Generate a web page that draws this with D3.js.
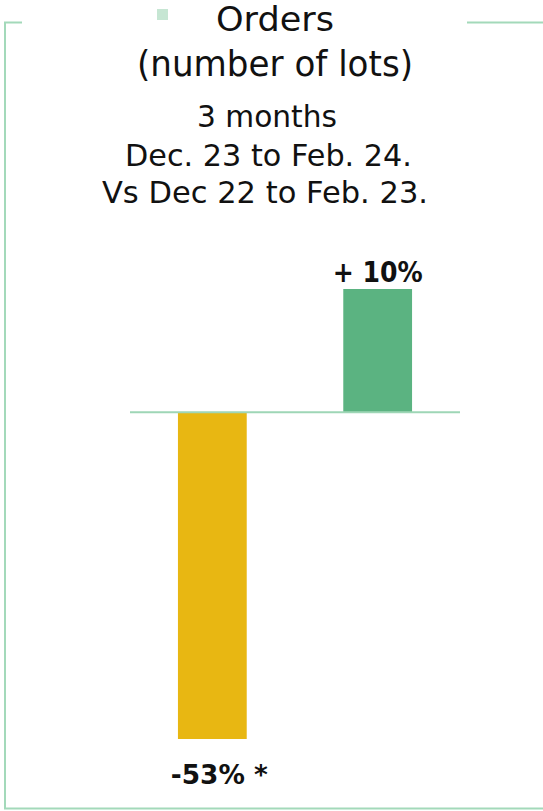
<!DOCTYPE html>
<html><head><meta charset="utf-8">
<script src="https://cdn.jsdelivr.net/npm/d3@7"></script>
<style>html,body{margin:0;padding:0;background:#fff;}svg{display:block;}</style>
</head><body>
<script>
const categories = ["Bar 1", "Bar 2"];
const barValues = [-53, 20];
const barLabels = ["-53% *", "+ 10%"];
const barColors = ["#E8B712", "#5BB381"];
const titleLines = ["Orders", "(number of lots)"];
const subtitleLines = ["3 months", "Dec. 23 to Feb. 24.", "Vs Dec 22 to Feb. 23."];

const W = 543, H = 811;
const font = "'DejaVu Sans', Lato, sans-serif";
const svg = d3.select("body").append("svg").attr("width", W).attr("height", H);

function fit(sel, w) {
  const n = sel.node();
  const cur = n.getComputedTextLength();
  if (Math.abs(cur - w) > 1) sel.attr("textLength", w).attr("lengthAdjust", "spacingAndGlyphs");
  return sel;
}

// frame
const frame = "#A3D9BA";
svg.append("path").attr("d", "M22,22.5 H5 V808.5 H543").attr("fill","none").attr("stroke", frame).attr("stroke-width", 2);
svg.append("line").attr("x1", 467).attr("x2", 543).attr("y1", 22.5).attr("y2", 22.5).attr("stroke", frame).attr("stroke-width", 2);

// legend square
svg.append("rect").attr("x", 157).attr("y", 9).attr("width", 11).attr("height", 11).attr("fill", "#C6E6D3");

// titles
fit(svg.append("text").attr("x", 275).attr("y", 31).attr("text-anchor","middle")
  .attr("font-family", font).attr("font-size", 33).attr("fill","#111").text(titleLines[0]), 118);
fit(svg.append("text").attr("x", 275).attr("y", 76).attr("text-anchor","middle")
  .attr("font-family", font).attr("font-size", 35).attr("fill","#111").text(titleLines[1]), 276);
const subW = [140, 287, 326];
const subX = [267, 268.5, 265];
const subY = [127, 165.5, 203];
subtitleLines.forEach((t, i) => {
  fit(svg.append("text").attr("x", subX[i]).attr("y", subY[i]).attr("text-anchor","middle")
    .attr("font-family", font).attr("font-size", 30).attr("fill","#111").text(t), subW[i]);
});

const x = d3.scaleBand().domain(categories).range([130, 460]).paddingInner(0.584).paddingOuter(0.29);
const y = d3.scaleLinear().domain([-53, 20]).range([739, 289]);

svg.selectAll("rect.bar").data(categories).join("rect").attr("class","bar")
  .attr("x", d => x(d)).attr("width", x.bandwidth())
  .attr("y", (d, i) => y(Math.max(0, barValues[i])))
  .attr("height", (d, i) => Math.abs(y(barValues[i]) - y(0)))
  .attr("fill", (d, i) => barColors[i]);

svg.append("line").attr("x1", 130).attr("x2", 460).attr("y1", y(0)).attr("y2", y(0))
  .attr("stroke", "#9ED6B6").attr("stroke-width", 2);

const lblW = [97, 90];
const lblDx = [7, 0];
const lblSize = [27, 29];
svg.selectAll("text.lbl").data(categories).join("text").attr("class","lbl")
  .attr("x", (d, i) => x(d) + x.bandwidth() / 2 + lblDx[i])
  .attr("y", (d, i) => barValues[i] < 0 ? y(barValues[i]) + 45 : y(barValues[i]) - 7)
  .attr("text-anchor","middle").attr("font-family", font).attr("font-weight", "bold")
  .attr("font-size", (d, i) => lblSize[i]).attr("fill","#111").text((d, i) => barLabels[i])
  .each(function(d, i) { fit(d3.select(this), lblW[i]); });
</script>
</body></html>
